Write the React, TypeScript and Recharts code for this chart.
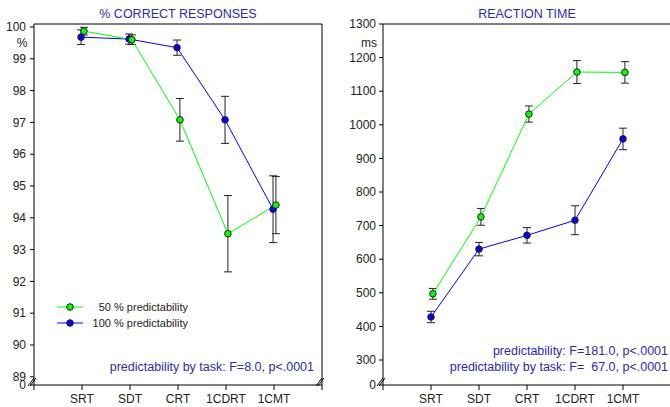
import { LineChart, Line, XAxis, YAxis, ErrorBar, ReferenceLine } from "recharts"

const tasks = ["SRT", "SDT", "CRT", "1CDRT", "1CMT"]
const xTicks = [0, 1, 2, 3, 4, 5, 6]

// % correct responses
const correct50 = [99.87, 99.6, 97.08, 93.5, 94.4]
const correct50Err = [0.12, 0.15, 0.67, 1.2, 0.9]
const correct100 = [99.68, 99.62, 99.35, 97.08, 94.27]
const correct100Err = [0.23, 0.16, 0.24, 0.74, 1.05]
const correctTicks = [88.742, 89, 90, 91, 92, 93, 94, 95, 96, 97, 98, 99, 100]

// reaction time (ms)
const rt50 = [497, 726, 1032, 1157, 1156]
const rt50Err = [16, 25, 24, 34, 32]
const rt100 = [428, 630, 671, 716, 958]
const rt100Err = [17, 20, 23, 43, 32]
const rtTicks = [225.6, 300, 400, 500, 600, 700, 800, 900, 1000, 1100, 1200, 1300]

const GREEN = "#00ff00"
const BLUE = "#0000ff"
const TEXT_BLUE = "#2a2ab4"
const FONT = '"Liberation Sans", Arial, sans-serif'

const toRows = (vals: number[], errs: number[], shift: number) =>
  vals.map((v, i) => ({ x: i + 1 + shift, y: v, err: errs[i] }))

function BreakMark({ cx, cy }: { cx: number; cy: number }) {
  return (
    <g stroke="#000" strokeWidth={1}>
      <line x1={cx - 5} y1={cy + 4} x2={cx + 1} y2={cy - 4} />
      <line x1={cx - 3} y1={cy + 4} x2={cx + 3} y2={cy - 4} />
    </g>
  )
}

function makeYTick(bottom: number, gap: number) {
  return (props: any) => {
    const { x, y, payload } = props
    const isBreak = payload.value === bottom
    return (
      <g>
        <text x={x} y={y} dy="0.355em" textAnchor="end" fontSize={12} fill="#222" fontFamily={FONT}>
          {isBreak ? "0" : payload.value}
        </text>
        {isBreak && <BreakMark cx={x + gap - 1} cy={y - 3} />}
      </g>
    )
  }
}

function makeXTick(breakAtEnd: boolean) {
  return (props: any) => {
    const { x, y, payload } = props
    const label = tasks[payload.value - 1] ?? ""
    return (
      <g>
        <text x={x} y={y} dy="0.71em" textAnchor="middle" fontSize={12} fill="#222" fontFamily={FONT}>
          {label}
        </text>
        {breakAtEnd && payload.value === 6 && <BreakMark cx={x - 1} cy={y - 12} />}
      </g>
    )
  }
}

const dotStyle = (fill: string) => ({ r: 3.3, fill, stroke: "#222", strokeWidth: 1 })

function Panel({
  data50,
  data100,
  domain,
  ticks,
  yWidth,
  tickMargin,
  breakAtEnd,
  width,
}: {
  data50: { x: number; y: number; err: number }[]
  data100: { x: number; y: number; err: number }[]
  domain: [number, number]
  ticks: number[]
  yWidth: number
  tickMargin: number
  breakAtEnd: boolean
  width: number
}) {
  return (
    <LineChart width={width} height={407} margin={{ top: 24, right: width - yWidth - 288, bottom: 0, left: 0 }}>
      <XAxis
        dataKey="x"
        type="number"
        domain={[0, 6]}
        ticks={xTicks}
        interval={0}
        allowDataOverflow
        height={22}
        tickSize={5}
        tickMargin={4}
        stroke="#000"
        tick={makeXTick(breakAtEnd)}
      />
      <YAxis
        type="number"
        domain={domain}
        ticks={ticks}
        interval={0}
        allowDataOverflow
        width={yWidth}
        tickSize={4}
        tickMargin={tickMargin}
        stroke="#000"
        tick={makeYTick(domain[0], 4 + tickMargin)}
      />
      <ReferenceLine y={domain[1]} stroke="#000" strokeWidth={1} />
      <ReferenceLine x={6} stroke="#000" strokeWidth={1} />
      <Line
        data={data100}
        dataKey="y"
        stroke={BLUE}
        strokeWidth={1}
        dot={dotStyle(BLUE)}
        isAnimationActive={false}
      >
        <ErrorBar dataKey="err" direction="y" width={4} stroke="#222" strokeWidth={1} />
      </Line>
      <Line
        data={data50}
        dataKey="y"
        stroke={GREEN}
        strokeWidth={1}
        dot={dotStyle(GREEN)}
        isAnimationActive={false}
      >
        <ErrorBar dataKey="err" direction="y" width={4} stroke="#222" strokeWidth={1} />
      </Line>
    </LineChart>
  )
}

const textBase = { position: "absolute" as const, fontFamily: FONT, whiteSpace: "pre" as const, lineHeight: "14px" }

export default function App() {
  return (
    <div style={{ position: "absolute", left: 0, top: 0, width: 670, height: 407, overflow: "hidden", background: "#fff" }}>
      <div style={{ position: "absolute", left: 0, top: 0 }}>
        <Panel
          data50={toRows(correct50, correct50Err, 0.04)}
          data100={toRows(correct100, correct100Err, -0.02)}
          domain={[88.742, 100.094]}
          ticks={correctTicks}
          yWidth={34}
          tickMargin={4}
          breakAtEnd
          width={335}
        />
      </div>
      <div style={{ position: "absolute", left: 335, top: 0 }}>
        <Panel
          data50={toRows(rt50, rt50Err, 0.04)}
          data100={toRows(rt100, rt100Err, 0)}
          domain={[225.6, 1300]}
          ticks={rtTicks}
          yWidth={48}
          tickMargin={3}
          breakAtEnd={false}
          width={340}
        />
      </div>

      <div style={{ ...textBase, left: 34, width: 288, top: 7, textAlign: "center", fontSize: 12.5, color: TEXT_BLUE }}>
        % CORRECT RESPONSES
      </div>
      <div style={{ ...textBase, left: 383, width: 288, top: 7, textAlign: "center", fontSize: 12.5, color: TEXT_BLUE }}>
        REACTION TIME
      </div>
      <div style={{ ...textBase, left: 12, width: 20, top: 36, textAlign: "center", fontSize: 12, color: "#222" }}>%</div>
      <div style={{ ...textBase, left: 357, width: 24, top: 36, textAlign: "center", fontSize: 12, color: "#222" }}>ms</div>

      {/* legend */}
      {[
        { label: "50 % predictability", color: GREEN, top: 300 },
        { label: "100 % predictability", color: BLUE, top: 316 },
      ].map((item) => (
        <div key={item.label} style={{ position: "absolute", left: 56, top: item.top, width: 132, height: 14 }}>
          <svg width={28} height={14} style={{ position: "absolute", left: 0, top: 0 }}>
            <line x1={1} y1={7} x2={27} y2={7} stroke={item.color} strokeWidth={1} />
            <circle cx={14} cy={7} r={3.3} fill={item.color} stroke="#222" strokeWidth={1} />
          </svg>
          <div style={{ ...textBase, right: 0, top: 0, fontSize: 11, color: "#222" }}>{item.label}</div>
        </div>
      ))}

      <div style={{ ...textBase, right: 670 - 314, top: 360, fontSize: 12.5, color: TEXT_BLUE }}>
        predictability by task: F=8.0, p&lt;.0001
      </div>
      <div style={{ ...textBase, right: 2, top: 344, fontSize: 12.5, color: TEXT_BLUE, textAlign: "right" }}>
        predictability: F=181.0, p&lt;.0001
      </div>
      <div style={{ ...textBase, right: 2, top: 360, fontSize: 12.5, color: TEXT_BLUE, textAlign: "right" }}>
        predictability by task: F=  67.0, p&lt;.0001
      </div>
    </div>
  )
}
